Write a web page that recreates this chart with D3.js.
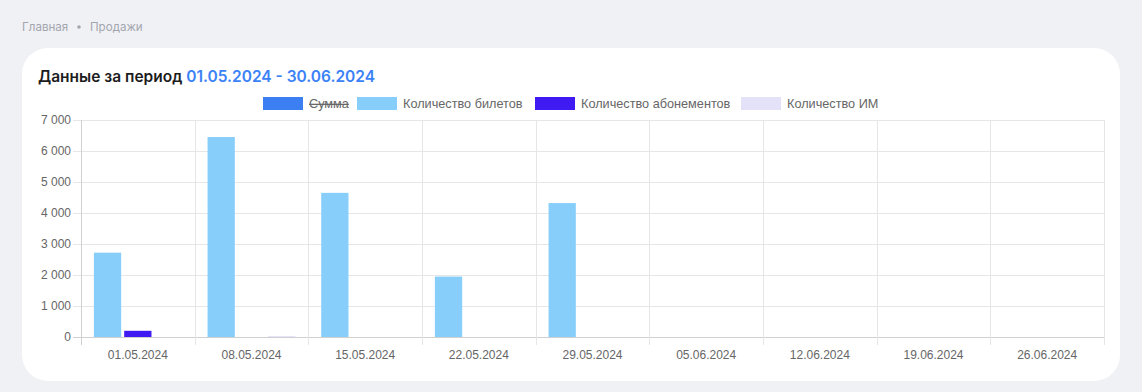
<!DOCTYPE html>
<html><head><meta charset="utf-8">
<script src="https://cdn.jsdelivr.net/npm/d3@7"></script>
<style>
html,body{margin:0;padding:0;background:#f0f1f5;}
svg{display:block;}
</style></head>
<body>
<svg id="c" width="1142" height="392"></svg>
<script>
const categories = ["01.05.2024","08.05.2024","15.05.2024","22.05.2024","29.05.2024","05.06.2024","12.06.2024","19.06.2024","26.06.2024"];
const seriesNames = ["Сумма","Количество билетов","Количество абонементов","Количество ИМ"];
const seriesColors = ["#3b7ff2","#87cefa","#3f1af2","#e4e2f8"];
const seriesHidden = [true,false,false,false];
const sumValues = [0,0,0,0,0,0,0,0,0];
const ticketValues = [2720,6450,4650,1950,4320,0,0,0,0];
const subscriptionValues = [200,0,0,0,0,0,0,0,0];
const imValues = [0,30,0,0,0,0,0,0,0];
const yTicks = [0,1000,2000,3000,4000,5000,6000,7000];

(function(){
const series = [sumValues,ticketValues,subscriptionValues,imValues];
const svg = d3.select("#c");
const tickFont = "'Liberation Sans', Arial, sans-serif";

// breadcrumb
svg.append("text").attr("x",22).attr("y",31).attr("font-family","Inter, sans-serif").attr("font-size",11.6).attr("fill","#a3a6ae").text("Главная");
svg.append("circle").attr("cx",79).attr("cy",27).attr("r",1.8).attr("fill","#a3a6ae");
svg.append("text").attr("x",90).attr("y",31).attr("font-family","Inter, sans-serif").attr("font-size",11.6).attr("fill","#a3a6ae").text("Продажи");

// card
svg.append("rect").attr("x",22).attr("y",48).attr("width",1098).attr("height",333).attr("rx",26).attr("fill","#fff");

// title
const t = svg.append("text").attr("x",38).attr("y",82).attr("font-family","Inter, sans-serif").attr("font-size",15.5).attr("font-weight",600);
t.append("tspan").attr("fill","#1c1c1e").text("Данные за период ");
t.append("tspan").attr("fill","#3b82f6").text("01.05.2024 - 30.06.2024");

// legend
const legendX = [263,357,535,741];
seriesNames.forEach((n,i)=>{
  const g = svg.append("g");
  g.append("rect").attr("x",legendX[i]).attr("y",97).attr("width",40).attr("height",13).attr("fill",seriesColors[i]);
  g.append("text").attr("x",legendX[i]+46).attr("y",108).attr("font-family",tickFont).attr("font-size",12.7).attr("fill","#666")
    .attr("text-decoration",seriesHidden[i]?"line-through":null).text(n);
});

// scales
const pLeft=81,pRight=1104,pTop=120,pBottom=337;
const x = d3.scaleBand().domain(categories).range([pLeft,pRight]).paddingInner(0).paddingOuter(0);
const y = d3.scaleLinear().domain([0,7000]).range([pBottom,pTop]);
const visible = series.map((s,i)=>i).filter(i=>!seriesHidden[i]);
const x1 = d3.scaleBand().domain(visible).range([0,x.bandwidth()*0.8]);

// grid horizontal
const gy = svg.append("g");
yTicks.forEach(v=>{
  gy.append("line").attr("x1",pLeft-8).attr("x2",pRight).attr("y1",Math.round(y(v))+0.5).attr("y2",Math.round(y(v))+0.5)
    .attr("stroke", v===0?"#d0d0d0":"#e6e6e6").attr("stroke-width",1);
  gy.append("text").attr("x",pLeft-10).attr("y",y(v)+4).attr("text-anchor","end").attr("font-family",tickFont)
    .attr("font-size",12).attr("fill","#666").text(d3.format(",")(v).replace(/,/g," "));
});
// grid vertical
const bounds = categories.map(c=>x(c)).concat([pRight]);
bounds.forEach((bx,i)=>{
  svg.append("line").attr("x1",Math.round(bx)+0.5).attr("x2",Math.round(bx)+0.5).attr("y1",pTop).attr("y2",pBottom+8)
    .attr("stroke", i===0?"#d0d0d0":"#e6e6e6").attr("stroke-width",1);
});
// x labels
categories.forEach(c=>{
  svg.append("text").attr("x",x(c)+x.bandwidth()/2).attr("y",359).attr("text-anchor","middle").attr("font-family",tickFont)
    .attr("font-size",12).attr("fill","#666").text(c);
});

// bars
const barW = x1.bandwidth()*0.9;
visible.forEach(si=>{
  svg.append("g").selectAll("rect").data(series[si]).join("rect")
    .attr("x",(d,i)=>x(categories[i]) + x.bandwidth()*0.1 + x1(si) + (x1.bandwidth()-barW)/2)
    .attr("width",barW)
    .attr("y",d=>y(d))
    .attr("height",d=>pBottom-y(d))
    .attr("fill",seriesColors[si]);
});
})();
</script>
</body></html>
